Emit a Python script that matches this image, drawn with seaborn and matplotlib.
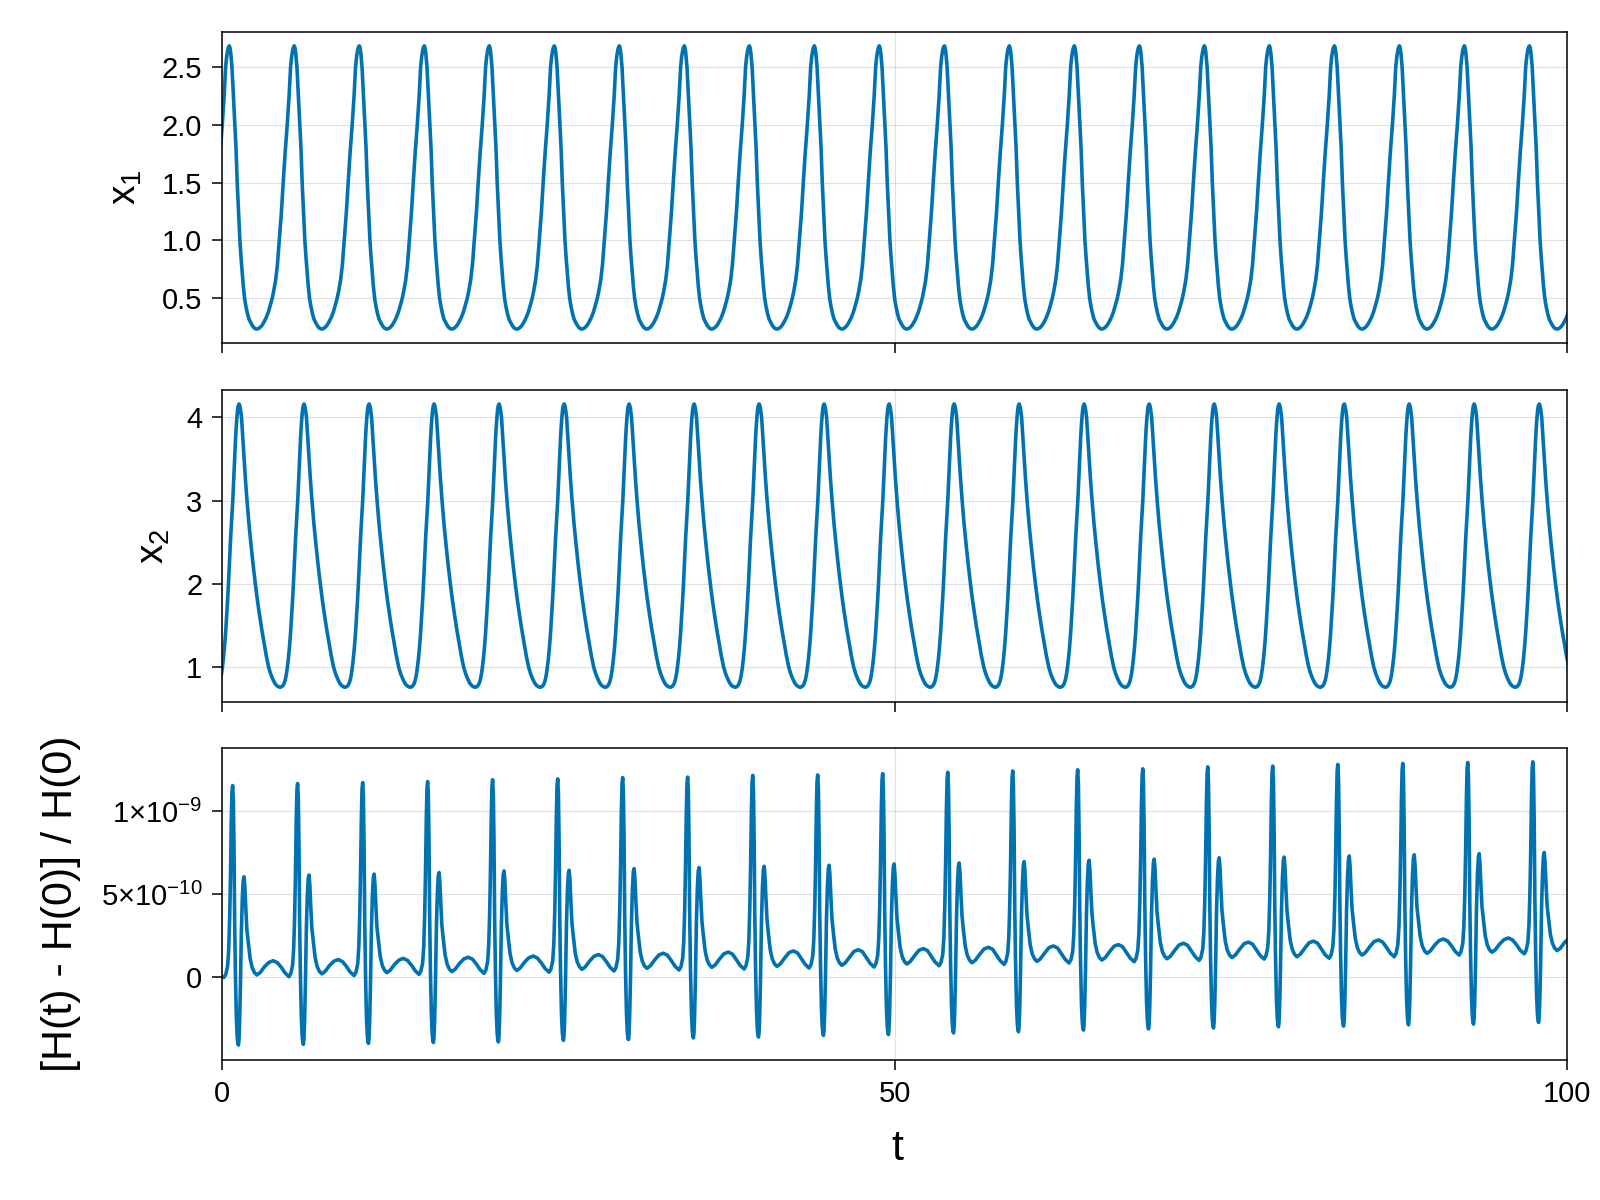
import numpy as np
import matplotlib
matplotlib.use("Agg")
import matplotlib.pyplot as plt
import seaborn as sns

# ------------------------------------------------------------------
# Data
# ------------------------------------------------------------------
# times of the x1 maxima (one per oscillation)
x1_peak_times = [0.54, 5.37, 10.21, 15.04, 19.87, 24.71, 29.54, 34.37, 39.21, 44.04,
                 48.87, 53.71, 58.54, 63.37, 68.21, 73.04, 77.87, 82.71, 87.54, 92.37, 97.21]
# times of the x2 maxima
x2_peak_times = [1.27, 6.10, 10.94, 15.77, 20.60, 25.44, 30.27, 35.10, 39.94, 44.77,
                 49.60, 54.44, 59.27, 64.10, 68.94, 73.77, 78.60, 83.44, 88.27, 93.10, 97.94]

# one oscillation of x1, read as (time after the peak, value)
x1_cycle_offsets = [0.00, 0.05, 0.10, 0.20, 0.31, 0.42, 0.50, 0.59, 0.69, 0.79, 0.87, 0.95,
                    1.04, 1.14, 1.24, 1.35, 1.47, 1.60, 1.72, 1.85, 2.01, 2.15, 2.30, 2.45,
                    2.60, 2.75, 2.90, 3.05, 3.19, 3.30, 3.45, 3.58, 3.72, 3.80, 3.88, 4.01,
                    4.15, 4.31, 4.45, 4.56, 4.64, 4.72, 4.78]
x1_cycle_values = [2.68, 2.665, 2.63, 2.50, 2.25, 2.00, 1.80, 1.50, 1.24, 1.00, 0.86, 0.74,
                   0.61, 0.50, 0.43, 0.37, 0.32, 0.29, 0.265, 0.245, 0.235, 0.238, 0.25, 0.27,
                   0.30, 0.335, 0.38, 0.44, 0.50, 0.56, 0.66, 0.79, 1.00, 1.12, 1.25, 1.50,
                   1.75, 2.00, 2.25, 2.50, 2.59, 2.645, 2.67]

# one oscillation of x2, read as (time after the peak, value)
x2_cycle_offsets = [0.00, 0.05, 0.10, 0.18, 0.26, 0.35, 0.47, 0.59, 0.74, 0.90, 1.05, 1.21,
                    1.35, 1.50, 1.67, 1.85, 2.02, 2.20, 2.35, 2.50, 2.65, 2.80, 2.95, 3.07,
                    3.20, 3.30, 3.38, 3.45, 3.52, 3.59, 3.67, 3.75, 3.83, 3.90, 3.97, 4.04,
                    4.12, 4.20, 4.28, 4.36, 4.43, 4.50, 4.57, 4.62, 4.67, 4.72, 4.77]
x2_cycle_values = [4.16, 4.14, 4.10, 4.00, 3.79, 3.55, 3.26, 3.00, 2.71, 2.45, 2.22, 2.00,
                   1.82, 1.65, 1.47, 1.30, 1.14, 1.00, 0.92, 0.86, 0.81, 0.78, 0.765, 0.76,
                   0.77, 0.79, 0.82, 0.86, 0.92, 1.00, 1.11, 1.25, 1.42, 1.60, 1.79, 2.00,
                   2.27, 2.55, 2.78, 3.00, 3.26, 3.50, 3.75, 3.89, 4.00, 4.09, 4.14]

# relative energy error (in units of 1e-9), per oscillation
h_start = (0.0, 0.0)
h_pre_min = [0.000, 0.004, 0.011, 0.018, 0.024, 0.031, 0.038, 0.044, 0.050, 0.056, 0.062,
             0.070, 0.078, 0.086, 0.094, 0.102, 0.110, 0.115, 0.124, 0.134, 0.142]
h_main_peak = [1.155, 1.167, 1.173, 1.179, 1.190, 1.195, 1.203, 1.206, 1.216, 1.219, 1.227,
               1.235, 1.243, 1.250, 1.256, 1.268, 1.272, 1.282, 1.288, 1.294, 1.298]
h_dip = [-0.408, -0.404, -0.398, -0.393, -0.389, -0.380, -0.375, -0.365, -0.360, -0.350,
         -0.345, -0.335, -0.328, -0.318, -0.311, -0.305, -0.298, -0.294, -0.286, -0.282, -0.272]
h_second_peak = [0.606, 0.616, 0.622, 0.631, 0.641, 0.645, 0.655, 0.661, 0.669, 0.675, 0.683,
                 0.689, 0.697, 0.705, 0.712, 0.720, 0.724, 0.731, 0.738, 0.745, 0.752]
h_valley = [0.014, 0.021, 0.028, 0.034, 0.041, 0.048, 0.054, 0.060, 0.066, 0.072, 0.080,
            0.088, 0.096, 0.104, 0.112, 0.119, 0.124, 0.134, 0.144, 0.151, 0.161]
h_hump = [0.100, 0.107, 0.114, 0.121, 0.128, 0.137, 0.145, 0.152, 0.159, 0.166, 0.173,
          0.181, 0.189, 0.197, 0.205, 0.212, 0.218, 0.225, 0.231, 0.237, 0.244]
# shape of one oscillation of the error: time after the x1 peak, feature it is read
# against, and the read difference from that feature
h_shape_offsets = [-0.39, -0.25, -0.12, -0.04, 0.03, 0.09, 0.15, 0.20, 0.25, 0.30, 0.35,
                   0.40, 0.46, 0.53, 0.59, 0.64, 0.68, 0.72, 0.77, 0.83, 0.90, 0.97, 1.04,
                   1.10, 1.16, 1.23, 1.31, 1.41, 1.55, 1.70, 1.87, 2.05, 2.30, 2.62, 2.95,
                   3.27, 3.58, 3.88, 4.15]
h_shape_feature = ["pre", "pre", "pre", "pre", "pre", "main", "main", "main", "main", "main",
                   "main", "dip", "dip", "dip", "dip", "dip", "dip", "dip", "dip", "dip",
                   "second", "second", "second", "second", "second", "second", "second",
                   "valley", "valley", "valley", "valley", "valley", "valley", "valley",
                   "hump", "hump", "hump", "valley", "valley"]
h_shape_delta = [0.0, 0.02, 0.07, 0.17, 0.36, -0.55, -0.22, -0.04, 0.0, -0.08, -0.35,
                 0.75, 0.42, 0.16, 0.05, 0.01, 0.0, 0.03, 0.14, 0.36, -0.33, -0.13, -0.02,
                 0.0, -0.06, -0.19, -0.32, 0.20, 0.10, 0.045, 0.015, 0.0, 0.015, 0.05,
                 -0.01, 0.0, -0.012, 0.045, 0.012]

ylabels = [r"$\mathrm{x}_1$", r"$\mathrm{x}_2$", "[H(t) - H(0)] / H(0)"]
xlabel = "t"
x_ticks = [0, 50, 100]
x1_ticks = [0.5, 1.0, 1.5, 2.0, 2.5]
x1_tick_labels = ["0.5", "1.0", "1.5", "2.0", "2.5"]
x2_ticks = [1, 2, 3, 4]
x2_tick_labels = ["1", "2", "3", "4"]
h_ticks = [0.0, 5e-10, 1e-9]
h_tick_labels = ["0", r"$5{\times}10^{-10}$", r"$1{\times}10^{-9}$"]


# ------------------------------------------------------------------
def periodic_series(peaks, offsets, values):
    t, y = [], []
    period0 = peaks[1] - peaks[0]
    for o, v in zip(offsets, values):          # tail of the oscillation before the first peak
        tt = peaks[0] - period0 + o
        if tt > -0.5:
            t.append(tt); y.append(v)
    for p in peaks:
        for o, v in zip(offsets, values):
            tt = p + o
            if tt < 101.5:
                t.append(tt); y.append(v)
    return np.array(t), np.array(y)


t1, y1 = periodic_series(x1_peak_times, x1_cycle_offsets, x1_cycle_values)
t2, y2 = periodic_series(x2_peak_times, x2_cycle_offsets, x2_cycle_values)

features = {"pre": h_pre_min, "main": h_main_peak, "dip": h_dip, "second": h_second_peak,
            "valley": h_valley, "hump": h_hump}
t3, y3 = [h_start[0]], [h_start[1]]
for k, p in enumerate(x1_peak_times):
    for o, f, d in zip(h_shape_offsets, h_shape_feature, h_shape_delta):
        tt = p + o
        if tt < 101.5:
            t3.append(tt); y3.append((features[f][k] + d) * 1e-9)
t3, y3 = np.array(t3), np.array(y3)

# ------------------------------------------------------------------
sns.set_style("white")
plt.rcParams["font.family"] = ["Liberation Sans", "DejaVu Sans"]
plt.rcParams["mathtext.fontset"] = "custom"
plt.rcParams["mathtext.rm"] = "Liberation Sans"
plt.rcParams["mathtext.it"] = "Liberation Sans:italic"
plt.rcParams["mathtext.bf"] = "Liberation Sans:bold"
plt.rcParams["text.color"] = "black"
plt.rcParams["axes.labelcolor"] = "black"
plt.rcParams["xtick.color"] = "black"
plt.rcParams["ytick.color"] = "black"

LINE = "#0072B2"
fig = plt.figure(figsize=(16, 12), dpi=100)
left, width = 222 / 1600, 1345 / 1600
rects = [(left, 1 - 343 / 1200, width, 310.7 / 1200),
         (left, 1 - 701.7 / 1200, width, 311.7 / 1200),
         (left, 1 - 1060 / 1200, width, 311.7 / 1200)]
axes = [fig.add_axes(r) for r in rects]

series = [(t1, y1), (t2, y2), (t3, y3)]
ylims = [(0.115, 2.797), (0.587, 4.328), (-0.498e-9, 1.3795e-9)]
yticks = [(x1_ticks, x1_tick_labels), (x2_ticks, x2_tick_labels), (h_ticks, h_tick_labels)]
label_x = [-0.0715, -0.0505, -0.1195]
label_size = [28, 28, 31]

for i, ax in enumerate(axes):
    tt, yy = series[i]
    sns.lineplot(x=tt, y=yy, ax=ax, color=LINE, linewidth=2.6, estimator=None, sort=False)
    ax.set_xlim(0, 100)
    ax.set_ylim(*ylims[i])
    ax.set_xticks(x_ticks)
    ax.set_yticks(yticks[i][0])
    ax.set_yticklabels(yticks[i][1])
    ax.grid(True, color="black", alpha=0.12, linewidth=0.8)
    ax.set_axisbelow(True)
    for s in ax.spines.values():
        s.set_visible(True)
        s.set_color("black")
        s.set_linewidth(1.1)
    ax.tick_params(axis="both", direction="out", length=7.2, width=1.1, color="black",
                   labelcolor="black", labelsize=21, left=True, bottom=True, top=False,
                   right=False)
    ax.tick_params(axis="y", pad=7)
    ax.tick_params(axis="x", pad=7)
    if i < 2:
        ax.tick_params(axis="x", labelbottom=False)
        ax.set_xlabel("")
    ax.set_ylabel(ylabels[i], fontsize=label_size[i], color="black")
    ax.yaxis.label.set_verticalalignment("center")
    ax.yaxis.set_label_coords(label_x[i], 0.5)

axes[2].set_xlabel(xlabel, fontsize=31, color="black")
axes[2].xaxis.set_label_coords(0.502, -0.222)

fig.savefig("out.png", dpi=100)
